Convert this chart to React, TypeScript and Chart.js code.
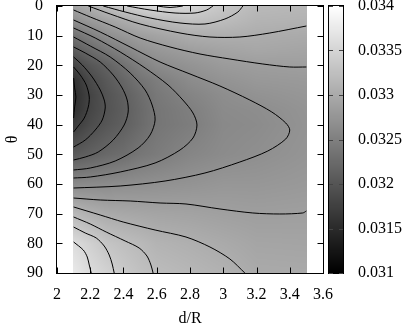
import React, { useEffect, useRef } from "react";
import { Chart, registerables } from "chart.js";
Chart.register(...registerables);

// ---- heat-map grid ----
const xGrid = [2.1, 2.2, 2.3, 2.4, 2.5, 2.6, 2.8, 3.0, 3.2, 3.5];
const thetaGrid = [0, 5, 10, 15, 20, 25, 30, 35, 40, 50, 60, 70, 80, 90];
const row0 = [0.03291, 0.03305, 0.03323, 0.03338, 0.03349, 0.03358, 0.03351, 0.03333, 0.03318, 0.03315];
const row5 = [0.03267, 0.0328, 0.03291, 0.03301, 0.03311, 0.03317, 0.03327, 0.03321, 0.03311, 0.03309];
const row10 = [0.03234, 0.0325, 0.03267, 0.03277, 0.03286, 0.03292, 0.03303, 0.03305, 0.03303, 0.033];
const row15 = [0.03208, 0.03224, 0.03241, 0.03255, 0.03269, 0.03277, 0.03286, 0.03292, 0.03296, 0.03293];
const row20 = [0.03181, 0.03201, 0.03215, 0.03233, 0.0325, 0.03263, 0.03273, 0.03282, 0.03285, 0.03287];
const row25 = [0.03158, 0.03187, 0.03205, 0.0322, 0.03236, 0.03247, 0.03264, 0.03273, 0.03279, 0.03281];
const row30 = [0.03153, 0.0318, 0.03199, 0.03212, 0.03227, 0.03241, 0.03255, 0.03266, 0.03272, 0.03277];
const row35 = [0.03156, 0.03182, 0.03198, 0.0321, 0.03224, 0.03238, 0.03249, 0.03263, 0.03266, 0.03274];
const row40 = [0.03169, 0.03189, 0.03202, 0.03212, 0.03225, 0.03238, 0.03247, 0.03261, 0.03264, 0.03273];
const row50 = [0.03206, 0.03214, 0.03223, 0.03229, 0.03239, 0.03245, 0.03257, 0.03264, 0.03268, 0.03275];
const row60 = [0.03261, 0.03263, 0.03264, 0.03267, 0.03268, 0.0327, 0.03273, 0.03277, 0.03277, 0.0328];
const row70 = [0.03316, 0.03307, 0.033, 0.03297, 0.03295, 0.03293, 0.03291, 0.03288, 0.03286, 0.03287];
const row80 = [0.03359, 0.03345, 0.03331, 0.03324, 0.03318, 0.03311, 0.03306, 0.033, 0.03294, 0.03293];
const row90 = [0.03374, 0.03358, 0.03347, 0.03336, 0.03327, 0.03321, 0.03315, 0.03309, 0.033, 0.03299];
const zRows = [row0, row5, row10, row15, row20, row25, row30, row35, row40, row50, row60, row70, row80, row90];

// ---- contour lines [d/R, theta] ----
const contourC0 = [[2.1, 24.3], [2.106, 27.6], [2.114, 30.7], [2.106, 34.0], [2.1, 37.75]];
const contourC1 = [[2.1, 20.56], [2.14, 23.26], [2.176, 26.63], [2.194, 30.67], [2.188, 34.04], [2.164, 37.75], [2.128, 40.45], [2.1, 42.47]];
const contourC2 = [[2.1, 17.19], [2.152, 19.89], [2.212, 23.93], [2.26, 28.31], [2.284, 31.69], [2.29, 34.38], [2.272, 38.43], [2.23, 41.8], [2.17, 45.17], [2.1, 47.53]];
const contourC3 = [[2.1, 13.82], [2.17, 15.84], [2.26, 18.88], [2.338, 23.26], [2.392, 27.64], [2.422, 31.69], [2.428, 35.73], [2.404, 40.11], [2.338, 45.17], [2.248, 49.21], [2.17, 50.9], [2.1, 51.91]];
const contourC4 = [[2.1, 10.45], [2.2, 13.48], [2.32, 17.19], [2.44, 22.58], [2.53, 28.31], [2.572, 33.37], [2.59, 38.43], [2.56, 43.48], [2.488, 47.87], [2.35, 52.25], [2.2, 54.61], [2.1, 55.28]];
const contourC5 = [[2.1, 7.42], [2.23, 10.79], [2.38, 15.5], [2.53, 20.9], [2.668, 26.63], [2.757, 31.69], [2.818, 36.07], [2.842, 40.11], [2.818, 44.49], [2.74, 48.54], [2.59, 52.92], [2.38, 55.95], [2.2, 57.64], [2.1, 57.98]];
const contourC6 = [[2.1, 4.72], [2.26, 8.76], [2.44, 13.82], [2.62, 18.88], [2.8, 22.92], [2.98, 26.97], [3.16, 31.69], [3.292, 35.73], [3.376, 39.44], [3.4, 41.8], [3.376, 44.83], [3.268, 48.88], [3.1, 52.58], [2.89, 56.29], [2.65, 58.99], [2.38, 60.67], [2.1, 61.35]];
const contourD = [[2.1, 1.35], [2.2, 3.71], [2.35, 7.08], [2.5, 10.79], [2.68, 13.82], [2.86, 16.18], [3.04, 17.87], [3.238, 19.55], [3.4, 20.56], [3.5, 20.56]];
const contourC = [[2.188, 0], [2.32, 2.7], [2.5, 6.07], [2.74, 9.1], [2.92, 10.45], [3.1, 10.45], [3.28, 9.1], [3.5, 6.74]];
const contourB = [[2.278, 0], [2.41, 2.02], [2.56, 4.04], [2.74, 5.73], [2.89, 6.07], [3.01, 4.38], [3.088, 2.02], [3.118, 0]];
const contourA = [[2.422, 0], [2.56, 1.35], [2.71, 2.36], [2.83, 2.36], [2.9, 1.35], [2.938, 0]];
const contourTop = [[2.602, 0], [2.68, 0.5], [2.757, 0]];
const contourM1 = [[2.1, 64.72], [2.26, 65.39], [2.44, 65.73], [2.62, 66.4], [2.776, 66.74], [2.98, 68.42], [3.178, 69.77], [3.34, 70.11], [3.478, 69.77], [3.5, 69.1]];
const contourM2 = [[2.1, 67.75], [2.26, 70.45], [2.398, 72.81], [2.59, 75.51], [2.776, 77.87], [2.92, 81.24], [3.04, 85.28], [3.13, 90]];
const contourL9 = [[2.1, 71.12], [2.2, 73.48], [2.296, 76.19], [2.41, 79.21], [2.494, 81.57], [2.541, 84.27], [2.565, 87.3], [2.578, 90]];
const contourL10 = [[2.1, 74.5], [2.17, 76.52], [2.236, 78.2], [2.284, 80.9], [2.314, 83.93], [2.332, 86.97], [2.344, 90]];
const contourL11 = [[2.1, 79.55], [2.158, 82.25], [2.182, 84.61], [2.194, 87.3], [2.206, 90]];
const contours = [contourC0, contourC1, contourC2, contourC3, contourC4, contourC5, contourC6, contourD, contourC, contourB, contourA, contourTop, contourM1, contourM2, contourL9, contourL10, contourL11];

// ---- ticks ----
const xTicks = [2, 2.2, 2.4, 2.6, 2.8, 3, 3.2, 3.4, 3.6];
const yTicks = [0, 10, 20, 30, 40, 50, 60, 70, 80, 90];
const cbTicks = [0.031, 0.0315, 0.032, 0.0325, 0.033, 0.0335, 0.034];
const zMin = 0.031;
const zMax = 0.034;

const FONT = "'Liberation Serif', 'DejaVu Serif', serif";

function idx(arr: number[], v: number) {
  let i = 0;
  while (i < arr.length - 2 && v > arr[i + 1]) i++;
  return i;
}
function clamp01(v: number) {
  return Math.max(0, Math.min(1, v));
}
function sample(x: number, t: number) {
  const i = idx(xGrid, x);
  const j = idx(thetaGrid, t);
  const tx = clamp01((x - xGrid[i]) / (xGrid[i + 1] - xGrid[i]));
  const ty = clamp01((t - thetaGrid[j]) / (thetaGrid[j + 1] - thetaGrid[j]));
  const a = zRows[j][i], b = zRows[j][i + 1], c = zRows[j + 1][i], d = zRows[j + 1][i + 1];
  return (1 - ty) * ((1 - tx) * a + tx * b) + ty * ((1 - tx) * c + tx * d);
}
function gray(v: number) {
  return Math.round(clamp01((v - zMin) / (zMax - zMin)) * 255);
}

const heatPlugin = {
  id: "heat",
  beforeDatasetsDraw(chart: any) {
    const { ctx, scales } = chart;
    const xs = scales.x, ys = scales.y;
    const x0 = Math.floor(xs.getPixelForValue(xGrid[0]));
    const x1 = Math.ceil(xs.getPixelForValue(xGrid[xGrid.length - 1]));
    const y0 = Math.round(ys.getPixelForValue(thetaGrid[0]));
    const y1 = Math.round(ys.getPixelForValue(thetaGrid[thetaGrid.length - 1]));
    const w = x1 - x0, h = y1 - y0;
    const off = document.createElement("canvas");
    off.width = w;
    off.height = h;
    const octx = off.getContext("2d")!;
    const img = octx.createImageData(w, h);
    for (let j = 0; j < h; j++) {
      const t = ys.getValueForPixel(y0 + j + 0.5);
      for (let i = 0; i < w; i++) {
        const x = xs.getValueForPixel(x0 + i + 0.5);
        const g = gray(sample(x, t));
        const k = (j * w + i) * 4;
        img.data[k] = g;
        img.data[k + 1] = g;
        img.data[k + 2] = g;
        img.data[k + 3] = 255;
      }
    }
    octx.putImageData(img, 0, 0);
    ctx.drawImage(off, x0, y0);
  },
  afterDatasetsDraw(chart: any) {
    const { ctx, scales, chartArea } = chart;
    const { left, right, top, bottom } = chartArea;
    const xs = scales.x, ys = scales.y, cb = scales.cb;
    ctx.save();
    ctx.strokeStyle = "#000";
    ctx.lineWidth = 1;
    const L = Math.round(left) - 0.5, R = Math.round(right) + 0.5;
    const T = Math.round(top) - 0.5, B = Math.round(bottom) + 0.5;
    ctx.strokeRect(L, T, R - L, B - T);
    const tl = 6;
    ctx.beginPath();
    xTicks.forEach((v) => {
      const p = Math.round(xs.getPixelForValue(v)) + 0.5;
      ctx.moveTo(p, B);
      ctx.lineTo(p, B - tl);
      ctx.moveTo(p, T);
      ctx.lineTo(p, T + tl);
    });
    yTicks.forEach((v) => {
      const p = Math.round(ys.getPixelForValue(v)) + 0.5;
      ctx.moveTo(L, p);
      ctx.lineTo(L + tl, p);
      ctx.moveTo(R, p);
      ctx.lineTo(R - tl, p);
    });
    ctx.stroke();

    // colour box
    const cbL = Math.round(right) + 6;
    const cbW = 14;
    const cT = Math.round(cb.top), cB = Math.round(cb.bottom);
    for (let y = cT; y < cB; y++) {
      const g = gray(cb.getValueForPixel(y + 0.5));
      ctx.fillStyle = `rgb(${g},${g},${g})`;
      ctx.fillRect(cbL, y, cbW, 1);
    }
    ctx.strokeStyle = "#000";
    ctx.strokeRect(cbL - 0.5, cT - 0.5, cbW + 1, cB - cT + 1);
    ctx.strokeStyle = "#444";
    ctx.beginPath();
    cbTicks.forEach((v) => {
      const p = Math.round(cb.getPixelForValue(v)) + 0.5;
      ctx.moveTo(cbL, p);
      ctx.lineTo(cbL + 4, p);
      ctx.moveTo(cbL + cbW, p);
      ctx.lineTo(cbL + cbW - 4, p);
    });
    ctx.stroke();
    ctx.restore();
  },
};

const tickFont = { family: FONT, size: 16 };

export default function App() {
  const ref = useRef<HTMLCanvasElement>(null);
  useEffect(() => {
    if (!ref.current) return;
    const chart = new Chart(ref.current, {
      type: "scatter",
      data: {
        datasets: contours.map((c) => ({
          data: c.map(([x, y]) => ({ x, y })),
          showLine: true,
          borderColor: "#000",
          borderWidth: 1,
          pointRadius: 0,
          tension: 0.3,
          fill: false,
        })),
      },
      options: {
        responsive: false,
        animation: false,
        devicePixelRatio: 1,
        layout: { padding: { top: 6, left: 0, right: 0, bottom: 0 } },
        plugins: { legend: { display: false }, tooltip: { enabled: false } },
        scales: {
          x: {
            type: "linear",
            position: "bottom",
            min: 2,
            max: 3.6,
            afterBuildTicks: (s: any) => {
              s.ticks = xTicks.map((v) => ({ value: v }));
            },
            ticks: {
              callback: (v: any) => String(Math.round(Number(v) * 10) / 10),
              font: tickFont,
              color: "#000",
              padding: 12,
              maxRotation: 0,
              autoSkip: false,
            },
            grid: { display: false, drawTicks: false },
            border: { display: false },
            title: { display: true, text: "d/R", font: { family: FONT, size: 16, lineHeight: 1 }, color: "#000", padding: 0 },
            afterFit: (s: any) => {
              s.height = 54;
              s.paddingLeft = 0;
              s.paddingRight = 0;
            },
          },
          y: {
            type: "linear",
            position: "left",
            reverse: true,
            min: 0,
            max: 90,
            afterBuildTicks: (s: any) => {
              s.ticks = yTicks.map((v) => ({ value: v }));
            },
            ticks: { font: tickFont, color: "#000", padding: 14, autoSkip: false },
            grid: { display: false, drawTicks: false },
            border: { display: false },
            title: { display: true, text: "θ", font: { family: FONT, size: 16, lineHeight: 1 }, color: "#000", padding: { top: 5, bottom: 0 } },
            afterFit: (s: any) => {
              s.width = 57;
              s.paddingTop = 0;
              s.paddingBottom = 0;
            },
          },
          cb: {
            type: "linear",
            position: "right",
            min: zMin,
            max: zMax,
            afterBuildTicks: (s: any) => {
              s.ticks = cbTicks.map((v) => ({ value: v }));
            },
            ticks: {
              callback: (v: any) => String(parseFloat(Number(v).toFixed(4))),
              font: tickFont,
              color: "#000",
              padding: 35,
              autoSkip: false,
            },
            grid: { display: false, drawTicks: false },
            border: { display: false },
            afterFit: (s: any) => {
              s.width = 81;
              s.paddingTop = 0;
              s.paddingBottom = 0;
            },
          },
        },
      } as any,
      plugins: [heatPlugin],
    });
    return () => chart.destroy();
  }, []);
  return (
    <div style={{ position: "fixed", left: 0, top: 0, width: 404, height: 327, background: "#fff" }}>
      <canvas ref={ref} width={404} height={327} style={{ display: "block" }} />
    </div>
  );
}
